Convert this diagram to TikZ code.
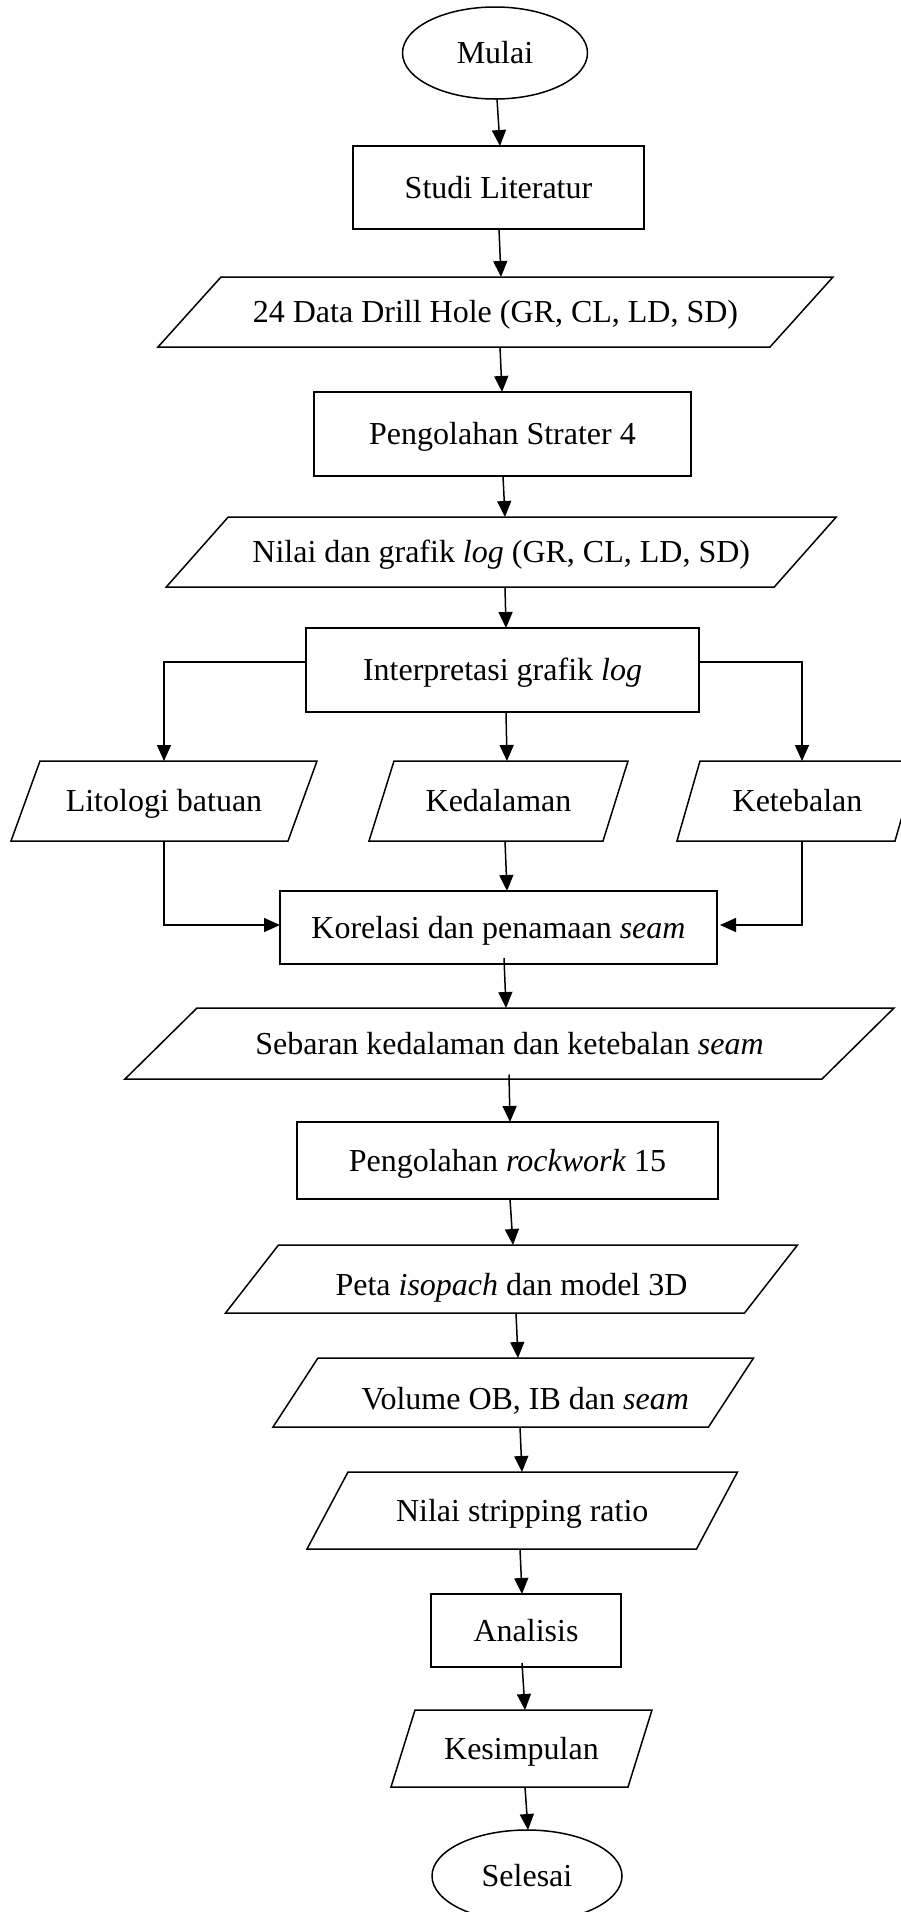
\documentclass[tikz,border=0pt]{standalone}
\usepackage{fontspec}
\setmainfont{Liberation Serif}
\usetikzlibrary{arrows.meta,shapes.geometric,calc}
\newcommand\paraout[2]{\draw[line] ($(#1.north west)+(#2,0)$) -- ($(#1.north east)+(#2,0)$) -- ($(#1.south east)-(#2,0)$) -- ($(#1.south west)-(#2,0)$) -- cycle;}
\begin{document}
\begin{tikzpicture}[x=1pt,y=-1pt,
  every node/.style={inner sep=0pt, outer sep=0pt, font=\fontsize{32}{38}\selectfont, text height=21pt, text depth=0pt},
  line/.style={line width=1.5pt},
  arr/.style={line width=1.5pt, -{Triangle[length=16pt,width=14pt]}},
  term/.style={ellipse, draw, line width=1.5pt},
  proc/.style={rectangle, draw, line width=1.5pt},
  io/.style={rectangle}
]
\useasboundingbox (0,0) rectangle (901,1912);
\fill[white] (0,0) rectangle (901,1912);

\node[term, minimum width=185pt, minimum height=92pt] (mulai) at (495,53) {Mulai};
\node[proc, minimum width=291pt, minimum height=83pt] (studi) at (498.5,187.5) {Studi Literatur};
\node[io, minimum width=612pt, minimum height=70pt] (data) at (495.5,312) {24 Data Drill Hole (GR, CL, LD, SD)};
\paraout{data}{31.5}
\node[proc, minimum width=377pt, minimum height=84pt] (strater) at (502.5,434) {Pengolahan Strater 4};
\node[io, minimum width=608pt, minimum height=70pt] (nilai) at (501.25,552) {Nilai dan grafik \textit{log} (GR, CL, LD, SD)};
\paraout{nilai}{31}
\node[proc, minimum width=393pt, minimum height=84pt] (interp) at (502.5,670) {Interpretasi grafik \textit{log}};
\node[io, minimum width=277pt, minimum height=80pt] (lito) at (164,801) {Litologi batuan};
\paraout{lito}{14.5}
\node[io, minimum width=234pt, minimum height=80pt] (kedal) at (498.5,801) {Kedalaman};
\paraout{kedal}{12.5}
\node[io, minimum width=218pt, minimum height=80pt] (keteb) at (797.5,801) {Ketebalan};
\paraout{keteb}{11.5}
\node[proc, minimum width=437pt, minimum height=73pt] (korel) at (498.5,927.5) {Korelasi dan penamaan \textit{seam}};
\node[io, minimum width=697pt, minimum height=71pt] (sebar) at (509.5,1043.5) {Sebaran kedalaman dan ketebalan \textit{seam}};
\paraout{sebar}{36}
\node[proc, minimum width=421pt, minimum height=77pt] (rock) at (507.5,1160.5) {Pengolahan \textit{rockwork} 15};
\node[io, minimum width=519pt, minimum height=68pt, text height=33pt] (peta) at (511.5,1279) {Peta \textit{isopach} dan model 3D};
\paraout{peta}{26.5}
\node[io, minimum width=435.5pt, minimum height=69pt, text height=33pt] (volume) at (513.25,1392.5) {\hspace*{24pt}Volume OB, IB dan \textit{seam}};
\paraout{volume}{22.5}
\node[io, minimum width=389.5pt, minimum height=77pt] (strip) at (522.25,1510.5) {Nilai stripping ratio};
\paraout{strip}{20.5}
\node[proc, minimum width=190pt, minimum height=73pt] (anal) at (526,1630.5) {Analisis};
\node[io, minimum width=237pt, minimum height=77pt] (kesim) at (521.5,1748.5) {Kesimpulan};
\paraout{kesim}{12}
\node[term, minimum width=190pt, minimum height=92pt] (selesai) at (527,1876) {Selesai};

\draw[arr] ([xshift=2pt]mulai.south) -- ([xshift=1.5pt]studi.north);
\draw[arr] ([xshift=0.5pt]studi.south) -- ([xshift=5.5pt]data.north);
\draw[arr] ([xshift=4.5pt]data.south) -- ([xshift=-0.5pt]strater.north);
\draw[arr] ([xshift=0.5pt]strater.south) -- ([xshift=3.75pt]nilai.north);
\draw[arr] ([xshift=3.75pt]nilai.south) -- ([xshift=3.5pt]interp.north);
\draw[arr] ([xshift=3.5pt]interp.south) -- ([xshift=8.5pt]kedal.north);
\draw[arr] ([yshift=8pt]interp.west) -| (lito.north);
\draw[arr] ([yshift=8pt]interp.east) -| ([xshift=4.5pt]keteb.north);
\draw[arr] ([xshift=6.5pt]kedal.south) -- ([xshift=8.5pt]korel.north);
\draw[arr] (lito.south) |- ([yshift=2.5pt]korel.west);
\draw[arr] ([xshift=4.5pt]keteb.south) |- ([xshift=3pt,yshift=2.5pt]korel.east);
\draw[arr] ([xshift=5.5pt,yshift=6pt]korel.south) -- ([xshift=-3.5pt]sebar.north);
\draw[arr] ([xshift=-0.5pt,yshift=4.5pt]sebar.south) -- ([xshift=2.5pt]rock.north);
\draw[arr] ([xshift=2.5pt]rock.south) -- ([xshift=1.5pt]peta.north);
\draw[arr] ([xshift=4.5pt]peta.south) -- ([xshift=4.75pt]volume.north);
\draw[arr] ([xshift=6.75pt]volume.south) -- ([xshift=-0.25pt]strip.north);
\draw[arr] ([xshift=-2.25pt]strip.south) -- ([xshift=-4pt]anal.north);
\draw[arr] ([xshift=-4pt,yshift=4pt]anal.south) -- ([xshift=3.5pt]kesim.north);
\draw[arr] ([xshift=3.5pt]kesim.south) -- ([xshift=1pt]selesai.north);
\end{tikzpicture}
\end{document}
